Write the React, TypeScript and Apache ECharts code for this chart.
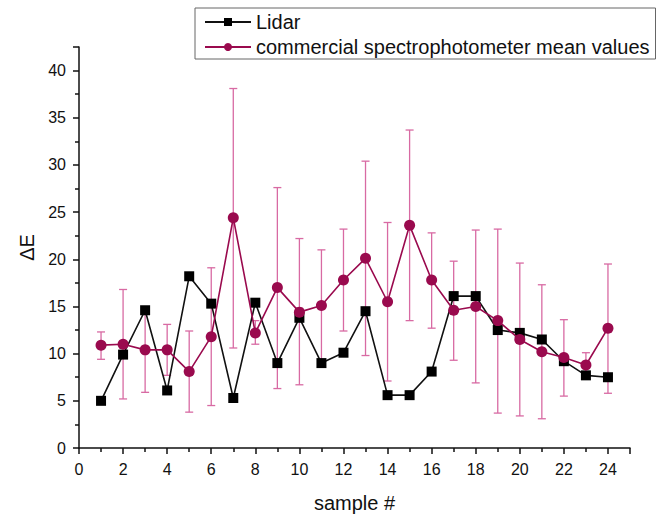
import React, { useEffect, useRef } from "react";
import * as echarts from "echarts";

const samples = [1, 2, 3, 4, 5, 6, 7, 8, 9, 10, 11, 12, 13, 14, 15, 16, 17, 18, 19, 20, 21, 22, 23, 24];
const lidar = [5.0, 9.9, 14.6, 6.1, 18.2, 15.3, 5.3, 15.4, 9.0, 13.8, 9.0, 10.1, 14.5, 5.6, 5.6, 8.1, 16.1, 16.1, 12.5, 12.2, 11.5, 9.2, 7.7, 7.5];
const spectro = [10.9, 11.0, 10.4, 10.4, 8.1, 11.8, 24.4, 12.2, 17.0, 14.4, 15.1, 17.8, 20.1, 15.5, 23.6, 17.8, 14.6, 15.0, 13.5, 11.5, 10.2, 9.6, 8.8, 12.7];
const errHigh = [12.3, 16.8, 14.7, 13.1, 12.4, 19.1, 38.1, 13.5, 27.6, 22.2, 21.0, 23.2, 30.4, 23.9, 33.7, 22.8, 19.8, 23.1, 23.2, 19.6, 17.3, 13.6, 10.1, 19.5];
const errLow = [9.4, 5.2, 5.9, 7.7, 3.8, 4.5, 10.6, 11.0, 6.3, 6.7, 9.2, 12.4, 9.8, 7.1, 13.5, 12.7, 9.3, 6.9, 3.7, 3.4, 3.1, 5.5, 7.6, 5.8];

const FONT = "'Liberation Sans', Arial, sans-serif";
const PURPLE = "#9a0a4e";
const PINK = "#d86aa3";

export default function App() {
  const ref = useRef<HTMLDivElement>(null);
  useEffect(() => {
    document.body.style.margin = "0";
    const chart = echarts.init(ref.current!, null, { renderer: "svg" });
    const errData = samples.map((s, i) => [s, errLow[i], errHigh[i]]);
    chart.setOption({
      animation: false,
      textStyle: { fontFamily: FONT },
      grid: { left: 79, right: 35, top: 47, bottom: 66, containLabel: false },
      legend: {
        data: ["Lidar", "commercial spectrophotometer mean values"],
        orient: "vertical",
        left: 195,
        top: 8,
        padding: [4, 6, 2, 9],
        itemGap: 5,
        itemWidth: 46,
        itemHeight: 10,
        borderColor: "#666",
        borderWidth: 1,
        textStyle: { fontFamily: FONT, fontSize: 20, color: "#111" },
      },
      xAxis: {
        type: "value",
        min: 0,
        max: 25,
        interval: 2,
        name: "sample #",
        nameLocation: "middle",
        nameGap: 45,
        nameTextStyle: { fontFamily: FONT, fontSize: 20, color: "#111" },
        axisLine: { lineStyle: { color: "#111", width: 1.5 } },
        axisTick: { length: 6, lineStyle: { color: "#111", width: 1.5 } },
        minorTick: { show: true, splitNumber: 2, length: 4, lineStyle: { color: "#111", width: 1.5 } },
        axisLabel: { fontFamily: FONT, fontSize: 16, color: "#111", margin: 13, showMaxLabel: false },
        splitLine: { show: false },
      },
      yAxis: {
        type: "value",
        min: 0,
        max: 42.5,
        interval: 5,
        name: "ΔE",
        nameLocation: "middle",
        nameGap: 40,
        nameRotate: 90,
        nameTextStyle: { fontFamily: FONT, fontSize: 20, color: "#111" },
        axisLine: { show: true, lineStyle: { color: "#111", width: 1.5 } },
        axisTick: { show: true, length: 6, lineStyle: { color: "#111", width: 1.5 } },
        minorTick: { show: true, splitNumber: 2, length: 4, lineStyle: { color: "#111", width: 1.5 } },
        axisLabel: { fontFamily: FONT, fontSize: 16, color: "#111", margin: 13, showMaxLabel: false },
        splitLine: { show: false },
      },
      series: [
        {
          type: "custom",
          name: "err",
          z: 1,
          data: errData,
          encode: { x: 0, y: [1, 2] },
          renderItem: (params: any, api: any) => {
            const x = api.value(0);
            const lo = api.value(1);
            const hi = api.value(2);
            const pH = api.coord([x, hi]);
            const pL = api.coord([x, lo]);
            const w = 4;
            const st = { stroke: PINK, lineWidth: 1.3 };
            return {
              type: "group",
              children: [
                { type: "line", shape: { x1: pH[0], y1: pH[1], x2: pL[0], y2: pL[1] }, style: st },
                { type: "line", shape: { x1: pH[0] - w, y1: pH[1], x2: pH[0] + w, y2: pH[1] }, style: st },
                { type: "line", shape: { x1: pL[0] - w, y1: pL[1], x2: pL[0] + w, y2: pL[1] }, style: st },
              ],
            };
          },
        },
        {
          type: "line",
          name: "Lidar",
          z: 2,
          data: samples.map((s, i) => [s, lidar[i]]),
          symbol: "rect",
          symbolSize: 10,
          lineStyle: { color: "#111", width: 1.6 },
          itemStyle: { color: "#000" },
        },
        {
          type: "line",
          name: "commercial spectrophotometer mean values",
          z: 3,
          data: samples.map((s, i) => [s, spectro[i]]),
          symbol: "circle",
          symbolSize: 11,
          lineStyle: { color: PURPLE, width: 1.6 },
          itemStyle: { color: PURPLE },
        },
      ],
    });
    return () => chart.dispose();
  }, []);
  return <div ref={ref} style={{ width: 665, height: 518 }} />;
}
